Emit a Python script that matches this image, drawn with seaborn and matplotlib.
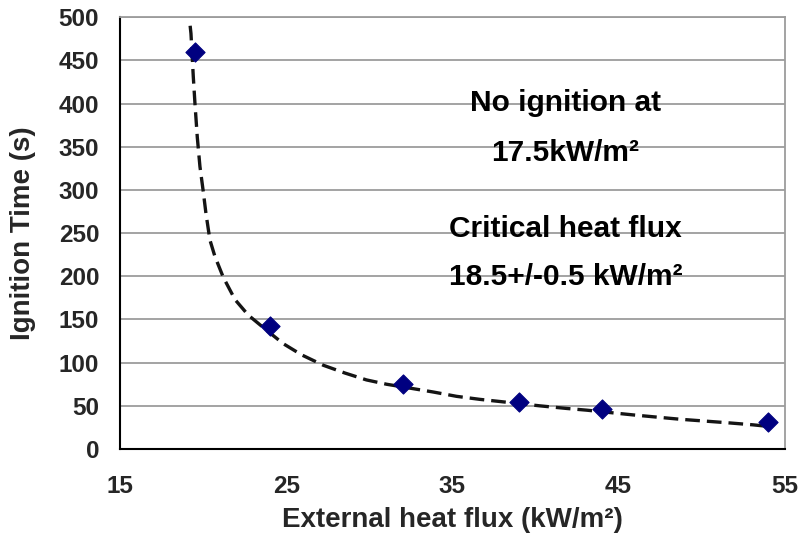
import matplotlib
matplotlib.use("Agg")
import matplotlib.pyplot as plt
from matplotlib.ticker import MultipleLocator
import seaborn as sns
import pandas as pd

# measured data points
heat_flux = [19.5, 24.0, 32.0, 39.0, 44.0, 54.0]
ignition_time = [460, 143, 75, 54, 46, 31]

# dashed trend curve
curve_x = [19.22, 19.27, 19.41, 19.51, 19.65, 19.81, 20.01, 20.17, 20.41, 20.71, 21.21,
           21.92, 22.72, 23.6, 24.82, 25.93, 27.23, 28.53, 29.83, 31.04, 33.85, 35.25,
           36.65, 37.86, 40.26, 41.86, 43.07, 45.87, 47.27, 48.68, 51.49, 53.09, 54.1]
curve_y = [490, 481, 431, 400, 361, 327, 298, 273, 242, 223, 199,
           173, 155, 141, 122, 109, 97, 88, 80, 75, 66, 61,
           57.5, 55, 50, 47, 45, 39.5, 37, 34.5, 30.5, 28, 26]

x_ticks = [15, 25, 35, 45, 55]
y_ticks = [0, 50, 100, 150, 200, 250, 300, 350, 400, 450, 500]

pts = pd.DataFrame({"q": heat_flux, "t": ignition_time})
fit = pd.DataFrame({"q": curve_x, "t": curve_y})

sns.set_theme(style="white")
plt.rcParams["font.family"] = ["Liberation Sans", "DejaVu Sans"]
plt.rcParams["font.weight"] = "bold"

fig = plt.figure(figsize=(8, 5.35), dpi=100)
ax = fig.add_axes([0.15, 0.1607, 0.831, 0.8073])

for yv in y_ticks[1:]:
    ax.axhline(yv, color="#9c9c9c", lw=1.3, zorder=0)

sns.lineplot(data=fit, x="q", y="t", ax=ax, sort=False, color="#141414",
             lw=2.4, linestyle=(0, (4.4, 2.1)), zorder=2)
sns.scatterplot(data=pts, x="q", y="t", ax=ax, marker="D", s=95,
                color="#000080", edgecolor="#000080", linewidth=0.8, zorder=3)

ax.set_xlim(15, 55)
ax.set_ylim(0, 500)
ax.set_xticks(x_ticks)
ax.set_yticks(y_ticks)
ax.xaxis.set_minor_locator(MultipleLocator(2))
ax.tick_params(axis="x", which="both", direction="in", length=6, width=1.2,
               color="black", pad=19, labelsize=17.5)
ax.tick_params(axis="y", which="both", length=0, pad=15, labelsize=17.5)
for lab in ax.get_xticklabels() + ax.get_yticklabels():
    lab.set_fontweight("bold")

ax.set_xlabel("External heat flux (kW/m²)", fontsize=20, fontweight="bold", labelpad=6)
ax.set_ylabel("Ignition Time (s)", fontsize=20, fontweight="bold", labelpad=16)

for side in ["left", "bottom"]:
    ax.spines[side].set_color("black")
    ax.spines[side].set_linewidth(1.5)
for side in ["top", "right"]:
    ax.spines[side].set_color("#9c9c9c")
    ax.spines[side].set_linewidth(1.3)

txt_kw = dict(ha="center", va="baseline", fontsize=21.5, fontweight="bold", color="black", zorder=4)
ax.text(41.8, 391, "No ignition at", **txt_kw)
ax.text(41.8, 334, "17.5kW/m²", **txt_kw)
ax.text(41.8, 245, "Critical heat flux", **txt_kw)
ax.text(41.8, 190, "18.5+/-0.5 kW/m²", **txt_kw)

fig.savefig("out.png", dpi=100, facecolor="white")
